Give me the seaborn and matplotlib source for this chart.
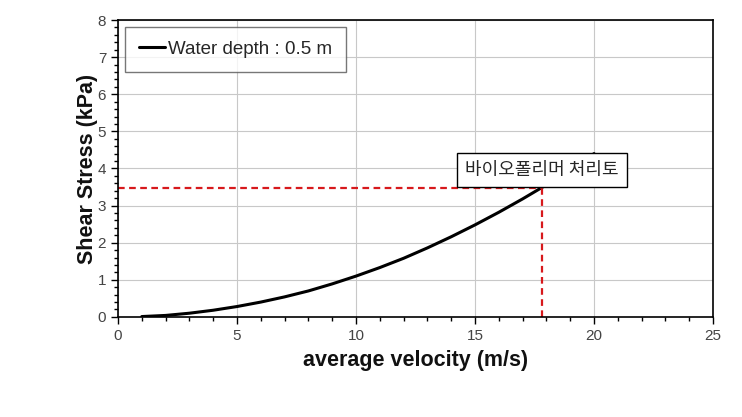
import matplotlib
matplotlib.use("Agg")
import matplotlib.pyplot as plt
import seaborn as sns
import pandas as pd
from matplotlib.ticker import MultipleLocator

sns.set_theme(style="white")
plt.rcParams['font.family'] = ['Liberation Sans', 'Noto Sans CJK KR', 'DejaVu Sans']

# data
velocity = [1, 2, 3, 4, 5, 6, 7, 8, 9, 10, 11, 12, 13, 14, 15, 16, 17, 18, 19, 20]
stress = [0.01, 0.04, 0.10, 0.18, 0.28, 0.40, 0.54, 0.70, 0.89, 1.10,
          1.33, 1.58, 1.86, 2.16, 2.48, 2.82, 3.18, 3.56, 3.97, 4.40]
treated_v = 17.8
treated_tau = 3.48
legend_label = "Water depth : 0.5 m"
note_text = "바이오폴리머 처리토"

df = pd.DataFrame({"v": velocity, "tau": stress})

fig = plt.figure(figsize=(7.42, 4.17), dpi=100)
ax = fig.add_axes([0.159, 0.24, 0.802, 0.712])

sns.lineplot(data=df, x="v", y="tau", ax=ax, color="black", linewidth=2.2,
             label=legend_label)

# red dashed guide lines
ax.plot([0, treated_v], [treated_tau, treated_tau], color="#d7191c",
        linestyle=(0, (3, 2)), linewidth=1.6)
ax.plot([treated_v, treated_v], [0, treated_tau], color="#d7191c",
        linestyle=(0, (3, 2)), linewidth=1.6)

ax.text(treated_v, 3.96, note_text, ha="center", va="center", fontsize=13,
        family=['Noto Sans CJK KR', 'DejaVu Sans'],
        bbox=dict(boxstyle="square,pad=0.45", facecolor="white", edgecolor="black", linewidth=1))

ax.set_xlim(0, 25)
ax.set_ylim(0, 8)
ax.xaxis.set_major_locator(MultipleLocator(5))
ax.xaxis.set_minor_locator(MultipleLocator(1))
ax.yaxis.set_major_locator(MultipleLocator(1))
ax.yaxis.set_minor_locator(MultipleLocator(0.2))
ax.grid(True, which="major", color="#c8c8c8", linewidth=0.8)
ax.tick_params(which="both", direction="out", colors="black", labelcolor="#444444",
               labelsize=11, bottom=True, left=True)
ax.tick_params(which="major", length=5, width=1)
ax.tick_params(which="minor", length=3, width=1)
for s in ax.spines.values():
    s.set_color("black")
    s.set_linewidth(1.2)

ax.set_xlabel("average velocity (m/s)", fontsize=15.5, fontweight="bold",
              labelpad=5, color="#111111")
ax.set_ylabel("Shear Stress (kPa)", fontsize=15.5, fontweight="bold",
              labelpad=0, color="#111111")

leg = ax.legend(loc="upper left", fontsize=13.5, frameon=True, fancybox=False,
                handlelength=1.4, handletextpad=0.15, borderaxespad=0.35,
                borderpad=0.75)
leg.get_frame().set_edgecolor("#555555")
leg.get_frame().set_linewidth(1)

fig.savefig("out.png", dpi=100)
